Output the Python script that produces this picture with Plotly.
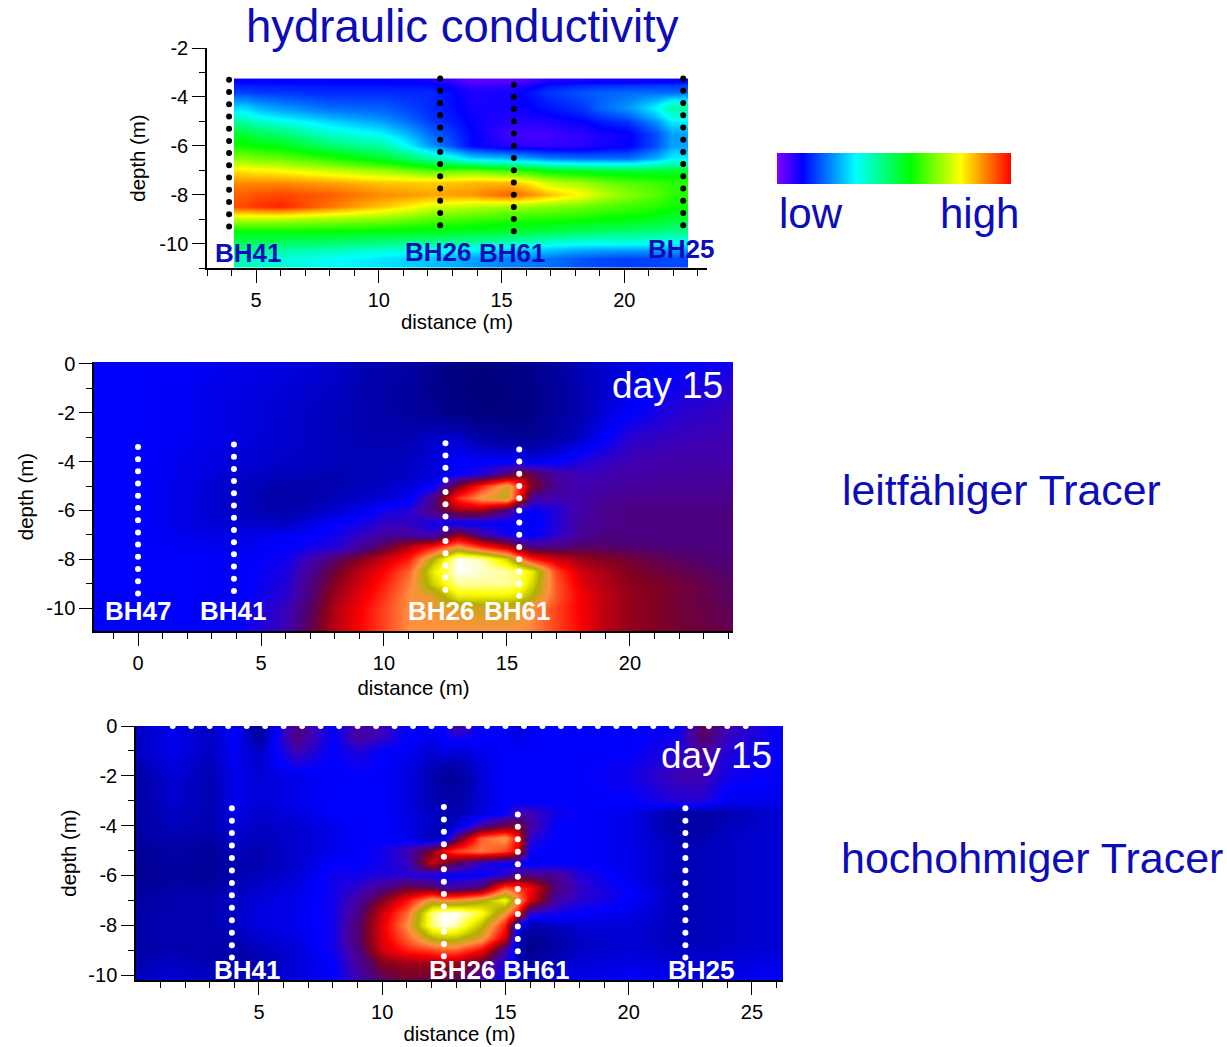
import plotly.graph_objects as go

W, H = 1227, 1047
FONT = "Liberation Sans, Arial, sans-serif"
BLUE = "#0c0cb8"

# ---- panel 1: hydraulic conductivity (0 = low, 1 = high)
k_x_edges = [4.1, 5, 7, 9, 11.2, 13, 14.5, 16.2, 17.5, 19, 21.3, 22.6]
k_y_edges = [-3.25, -3.5, -4.1, -4.75, -5.25, -5.75, -6.25, -6.75, -7.25, -7.75,
             -8.25, -8.75, -9.25, -9.75, -10.25, -11]
k_z = [
    [.10, .10, .10, .10, .09, .03, .03, .08, .09, .09, .10],
    [.16, .15, .14, .14, .14, .08, .09, .15, .18, .20, .20],
    [.30, .24, .20, .19, .14, .09, .09, .12, .15, .24, .42],
    [.42, .36, .30, .25, .16, .10, .07, .08, .10, .15, .32],
    [.52, .47, .38, .33, .20, .11, .05, .05, .07, .10, .25],
    [.58, .55, .47, .42, .24, .11, .07, .06, .07, .10, .25],
    [.68, .65, .60, .53, .42, .30, .27, .22, .20, .20, .32],
    [.80, .78, .74, .70, .64, .66, .62, .56, .54, .52, .53],
    [.88, .88, .86, .83, .82, .84, .84, .74, .70, .64, .60],
    [.92, .94, .92, .88, .86, .87, .92, .84, .78, .68, .60],
    [.94, .97, .90, .83, .75, .72, .70, .68, .66, .62, .58],
    [.72, .72, .70, .68, .64, .62, .60, .59, .58, .56, .52],
    [.56, .56, .56, .55, .54, .53, .52, .50, .48, .46, .44],
    [.48, .47, .46, .44, .42, .41, .38, .36, .34, .34, .33],
    [.40, .37, .34, .31, .28, .25, .22, .21, .18, .16, .17],
]
k_colors = [[0, "#8000ff"], [.105, "#0000ff"], [.333, "#00ffff"], [.568, "#00ff00"],
            [.78, "#ffff00"], [1, "#ff0000"]]
key_levels = [0, .25, .5, .75, 1]

# ---- panel 2: leitfaehiger Tracer, day 15
a_x = [-1.8, 0, 2, 4, 6, 7, 8, 9, 10, 11, 12, 13, 14, 15, 15.5, 16, 17, 18, 19, 20, 22, 24.2]
a_y = [0.08, -1, -2, -3, -4, -4.5, -5, -5.5, -6, -6.5, -7, -7.5, -8, -8.5, -9, -9.5, -10, -10.94]
a_z = [
    [.20, .20, .20, .18, .17, .16, .15, .13, .12, .10, .07, .04, .03, .04, .05, .06, .09, .13, .15, .17, .20, .22],
    [.20, .20, .19, .17, .16, .15, .14, .12, .10, .08, .05, .03, .02, .03, .04, .05, .08, .12, .15, .18, .22, .25],
    [.20, .20, .19, .17, .15, .14, .13, .12, .10, .09, .07, .04, .03, .03, .03, .05, .08, .12, .16, .20, .25, .27],
    [.20, .20, .19, .17, .15, .14, .13, .12, .12, .12, .15, .15, .10, .08, .07, .07, .10, .14, .20, .25, .27, .28],
    [.20, .20, .18, .16, .14, .14, .13, .13, .13, .14, .16, .20, .20, .20, .20, .18, .20, .24, .26, .28, .29, .29],
    [.20, .20, .18, .15, .13, .13, .12, .13, .13, .14, .16, .20, .24, .34, .42, .38, .30, .27, .28, .29, .30, .30],
    [.20, .20, .17, .14, .11, .11, .12, .13, .14, .16, .20, .42, .60, .75, .60, .42, .31, .28, .29, .30, .31, .31],
    [.20, .20, .17, .14, .10, .11, .13, .14, .16, .18, .32, .60, .72, .78, .55, .30, .28, .29, .31, .32, .32, .32],
    [.20, .20, .17, .14, .11, .13, .15, .18, .22, .24, .34, .45, .45, .32, .22, .20, .24, .29, .32, .33, .33, .33],
    [.20, .20, .17, .15, .14, .17, .20, .22, .26, .26, .22, .20, .20, .20, .20, .18, .24, .30, .32, .33, .33, .34],
    [.20, .20, .18, .17, .19, .20, .22, .26, .30, .30, .27, .45, .30, .22, .20, .20, .25, .31, .33, .33, .33, .33],
    [.20, .20, .19, .18, .20, .22, .24, .30, .38, .48, .58, .72, .60, .50, .40, .33, .34, .36, .36, .35, .34, .33],
    [.20, .20, .20, .19, .22, .28, .36, .42, .50, .58, .80, 1.0, .97, .85, .70, .58, .50, .45, .42, .40, .36, .34],
    [.20, .20, .20, .19, .23, .31, .40, .48, .55, .65, .88, 1.0, .98, .96, .94, .88, .62, .50, .46, .42, .38, .35],
    [.20, .20, .20, .19, .24, .33, .43, .50, .58, .68, .84, .96, .96, .96, .94, .85, .64, .52, .47, .43, .40, .36],
    [.20, .20, .20, .19, .25, .34, .45, .52, .60, .70, .74, .88, .88, .88, .86, .80, .64, .54, .48, .44, .40, .36],
    [.20, .20, .20, .20, .27, .36, .47, .54, .62, .70, .72, .74, .76, .76, .74, .70, .62, .54, .48, .44, .40, .37],
    [.20, .20, .20, .20, .28, .38, .48, .55, .62, .70, .70, .70, .70, .70, .70, .68, .62, .55, .48, .44, .40, .38],
]

# ---- panel 3: hochohmiger Tracer, day 15
b_x = [0, 1.5, 3, 4, 5, 6.5, 8, 9, 10, 11, 12, 12.5, 13, 14, 15, 15.5, 16, 17, 18, 20, 22, 23, 24, 26.3]
b_y = [0, -.5, -1, -2, -3, -3.5, -4, -4.5, -5, -5.5, -6, -6.5, -7, -7.5, -8, -8.5, -9, -9.5, -10.2]
b_z = [
    [.14, .18, .14, .20, .07, .34, .20, .30, .28, .20, .20, .20, .30, .20, .20, .15, .20, .20, .20, .20, .20, .38, .28, .20],
    [.14, .18, .14, .20, .10, .33, .20, .30, .26, .20, .18, .20, .22, .20, .20, .17, .20, .20, .20, .20, .22, .36, .26, .20],
    [.14, .18, .14, .19, .14, .28, .20, .24, .20, .19, .15, .18, .16, .18, .20, .20, .20, .20, .20, .20, .24, .30, .24, .20],
    [.10, .16, .12, .18, .16, .18, .20, .20, .20, .17, .12, .08, .08, .16, .20, .20, .20, .20, .20, .22, .28, .28, .22, .20],
    [.10, .15, .12, .18, .16, .18, .20, .20, .20, .17, .12, .12, .10, .16, .20, .20, .20, .20, .20, .20, .24, .24, .18, .18],
    [.10, .14, .12, .17, .15, .17, .20, .20, .20, .17, .14, .12, .12, .16, .20, .28, .28, .22, .20, .18, .10, .10, .12, .16],
    [.10, .13, .12, .16, .14, .15, .18, .20, .20, .18, .14, .12, .15, .30, .40, .42, .30, .20, .20, .18, .10, .10, .13, .16],
    [.09, .12, .10, .15, .13, .15, .18, .20, .20, .18, .12, .16, .34, .65, .72, .55, .25, .20, .20, .18, .12, .12, .14, .16],
    [.07, .10, .08, .13, .12, .15, .18, .20, .22, .28, .42, .55, .62, .68, .62, .52, .20, .20, .20, .18, .13, .13, .14, .16],
    [.06, .09, .07, .12, .12, .15, .20, .20, .22, .26, .50, .42, .36, .25, .20, .20, .18, .20, .20, .18, .13, .13, .14, .16],
    [.06, .09, .08, .12, .13, .16, .22, .22, .24, .24, .22, .20, .20, .20, .25, .34, .33, .32, .24, .18, .12, .13, .14, .16],
    [.08, .10, .10, .13, .15, .17, .22, .26, .32, .40, .38, .30, .30, .36, .65, .60, .55, .34, .26, .20, .13, .13, .14, .16],
    [.09, .12, .12, .14, .16, .18, .22, .30, .42, .56, .74, .70, .70, .78, .90, .72, .52, .30, .25, .20, .13, .13, .14, .16],
    [.10, .12, .12, .14, .17, .18, .22, .33, .50, .66, .95, 1.0, 1.0, .92, .72, .55, .25, .22, .20, .18, .13, .13, .14, .16],
    [.10, .12, .12, .14, .17, .18, .22, .35, .52, .70, .95, 1.0, .97, .82, .58, .20, .12, .14, .16, .16, .13, .13, .14, .16],
    [.10, .12, .12, .12, .15, .17, .22, .35, .52, .65, .80, .82, .82, .74, .50, .12, .07, .10, .14, .16, .13, .13, .14, .16],
    [.10, .12, .11, .11, .13, .16, .22, .33, .50, .58, .62, .65, .65, .55, .30, .12, .05, .10, .14, .16, .14, .14, .15, .16],
    [.12, .14, .12, .11, .12, .16, .20, .30, .42, .45, .45, .46, .45, .38, .22, .14, .10, .13, .16, .17, .16, .15, .16, .18],
    [.14, .16, .14, .13, .14, .17, .20, .28, .36, .40, .38, .38, .36, .30, .20, .16, .15, .17, .18, .20, .18, .18, .18, .20],
]
tracer_colors = [[0, "#000070"], [.12, "#0000b0"], [.2, "#0000ff"], [.28, "#4000b0"], [.35, "#500070"],
                 [.42, "#800020"], [.55, "#ff0000"], [.7, "#ff9040"], [.8, "#b0b000"], [.9, "#ffff00"], [1, "#ffffff"]]

# ---- electrodes: borehole distance and depths
d_a = [-3.3, -3.8, -4.3, -4.8, -5.3, -5.8, -6.3, -6.8, -7.3, -7.8, -8.3, -8.8, -9.3]
d_b = [-3.25, -3.75, -4.25, -4.75, -5.25, -5.75, -6.25, -6.75, -7.25, -7.75, -8.25, -8.75, -9.25]
d_c = [-3.5, -4, -4.5, -5, -5.5, -6, -6.5, -7, -7.5, -8, -8.5, -9, -9.5]
d_d = [-3.4, -3.9, -4.4, -4.9, -5.4, -5.9, -6.4, -6.9, -7.4, -7.9, -8.4, -8.9, -9.4]
d_e = [-3.55, -4.05, -4.55, -5.05, -5.55, -6.05, -6.55, -7.05, -7.55, -8.05, -8.55, -9.05]

holes1 = [(3.9, d_a), (12.5, d_b), (15.5, d_c), (22.4, d_b)]
holes2 = [(0, d_d), (3.9, d_a), (12.5, d_b), (15.5, d_c)]
holes3 = [(3.9, d_a), (12.5, d_b), (15.5, d_e), (22.3, d_a)]
surface_x = [1.5, 2.25, 3, 3.75, 4.5, 5.25, 6, 6.75, 7.5, 8.25, 9, 9.75, 10.5, 11.25, 12, 12.75, 13.5,
             14.25, 15, 15.75, 16.5, 17.25, 18, 18.75, 19.5, 20.25, 21, 21.75, 22.5, 23.25, 24, 24.75]

labels1 = [("BH41", 4.67, -10.37), ("BH26", 12.41, -10.33), ("BH61", 15.43, -10.37), ("BH25", 22.31, -10.24)]
labels2 = [("BH47", 0, -10.12), ("BH41", 3.86, -10.12), ("BH26", 12.32, -10.12), ("BH61", 15.41, -10.12)]
labels3 = [("BH41", 4.51, -9.8), ("BH26", 13.24, -9.8), ("BH61", 16.24, -9.8), ("BH25", 22.93, -9.8)]

depth_ticks1 = [-10, -8, -6, -4, -2]
depth_ticks = [-10, -8, -6, -4, -2, 0]
depth_labels1 = ["-10", "-8", "-6", "-4", "-2"]
depth_labels = ["-10", "-8", "-6", "-4", "-2", "0"]


def px(x):
    return x / W


def py(y):
    return 1 - y / H


fig = go.Figure()

fig.add_trace(go.Heatmap(x=k_x_edges, y=k_y_edges, z=k_z, zmin=0, zmax=1, zsmooth="best", colorscale=k_colors,
                         xaxis="x", yaxis="y", hoverinfo="skip", showscale=False))
fig.add_trace(go.Heatmap(x=a_x, y=a_y, z=a_z, zmin=0, zmax=1, zsmooth="best", colorscale=tracer_colors,
                         xaxis="x2", yaxis="y2", showscale=False, hoverinfo="skip"))
fig.add_trace(go.Heatmap(x=b_x, y=b_y, z=b_z, zmin=0, zmax=1, zsmooth="best", colorscale=tracer_colors,
                         xaxis="x3", yaxis="y3", showscale=False, hoverinfo="skip"))
# colour key low -> high
fig.add_trace(go.Heatmap(x=key_levels, y=[0, 1], z=[key_levels, key_levels], zmin=0, zmax=1, zsmooth="best",
                         colorscale=k_colors, xaxis="x4", yaxis="y4", showscale=False, hoverinfo="skip"))


def add_holes(holes, color, ax, ay):
    for x, depths in holes:
        fig.add_trace(go.Scatter(x=[x] * len(depths), y=depths, mode="markers", showlegend=False,
                                 marker=dict(color=color, size=6), xaxis=ax, yaxis=ay, cliponaxis=False))


add_holes(holes1, "black", "x", "y")
add_holes(holes2, "white", "x2", "y2")
add_holes(holes3, "white", "x3", "y3")
fig.add_trace(go.Scatter(x=surface_x, y=[0] * len(surface_x), mode="markers", showlegend=False,
                         marker=dict(color="white", size=6), xaxis="x3", yaxis="y3", cliponaxis=True))


def axis_common(title, standoff):
    return dict(title=dict(text=title, font=dict(size=20.4, color="black"), standoff=standoff),
                automargin=False,
                showgrid=False, zeroline=False, showline=True, linecolor="black", linewidth=1.5,
                ticks="outside", ticklen=13, tickwidth=1.2, tickcolor="black",
                tickfont=dict(size=20, color="black"),
                minor=dict(ticks="outside", ticklen=6, tickwidth=1, tickcolor="black", showgrid=False))


def x_axis(rng, left, right, anchor, standoff=2):
    d = axis_common("distance (m)", standoff)
    d["minor"]["dtick"] = 1
    d.update(range=rng, domain=[px(left), px(right)], anchor=anchor, dtick=5, tick0=0)
    return d


def y_axis(rng, top, bottom, anchor, vals, texts, standoff=6):
    d = axis_common("depth (m)", standoff)
    d["minor"]["dtick"] = 1
    d.update(range=rng, domain=[py(bottom), py(top)], anchor=anchor, tickmode="array", tickvals=vals, ticktext=texts)
    return d


fig.update_layout(
    width=W, height=H, margin=dict(l=0, r=0, t=0, b=0), autosize=False,
    paper_bgcolor="white", plot_bgcolor="white", showlegend=False,
    font=dict(family=FONT, color="black"),
    xaxis=x_axis([3.0, 23.37], 207, 707, "y", 2),
    yaxis=y_axis([-11, -2], 48, 268, "x", depth_ticks1, depth_labels1, 8),
    xaxis2=x_axis([-1.79, 24.19], 94, 733, "y2", 8),
    yaxis2=y_axis([-10.94, 0.08], 362, 631, "x2", depth_ticks, depth_labels, 7),
    xaxis3=x_axis([0.01, 26.26], 136, 783, "y3", 4),
    yaxis3=y_axis([-10.2, 0], 726, 980, "x3", depth_ticks, depth_labels, 6),
    xaxis4=dict(range=[0, 1], domain=[px(777), px(1011)], anchor="y4", visible=False),
    yaxis4=dict(range=[0, 1], domain=[py(184), py(153)], anchor="x4", visible=False),
)

anns = []


def note(text, x, y, size, color=BLUE):
    anns.append(dict(text=text, x=px(x), y=py(y), xref="paper", yref="paper", showarrow=False,
                     xanchor="center", yanchor="middle", font=dict(size=size, color=color)))


note("hydraulic conductivity", 462, 27, 45.5)
note("low", 811, 213, 42)
note("high", 979, 213, 42)
note("leitfähiger Tracer", 1001, 490, 42.8)
note("hochohmiger Tracer", 1032, 858, 43)
note("day 15", 667, 385, 37, "white")
note("day 15", 716, 755, 37, "white")

for labels, ax, ay, col in [(labels1, "x", "y", BLUE), (labels2, "x2", "y2", "white"), (labels3, "x3", "y3", "white")]:
    for t, x, y in labels:
        anns.append(dict(text="<b>%s</b>" % t, x=x, y=y, xref=ax, yref=ay, showarrow=False,
                         xanchor="center", yanchor="middle", font=dict(size=26, color=col)))
fig.update_layout(annotations=anns)

fig.write_html("out.html", config={"displayModeBar": False}, post_script="document.body.style.margin='0';")
